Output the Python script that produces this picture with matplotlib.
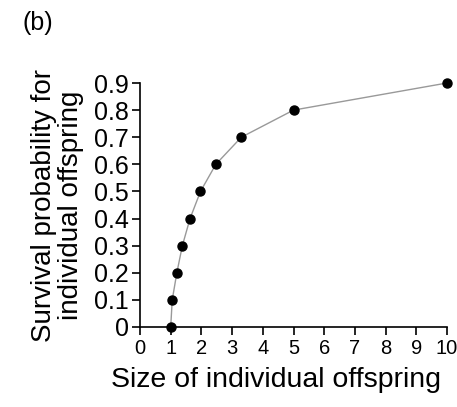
import matplotlib
matplotlib.use('Agg')
import matplotlib.pyplot as plt

# Dati
offspring_size = [1.0, 1.05, 1.2, 1.38, 1.63, 1.97, 2.47, 3.3, 5.0, 10.0]
survival_prob = [0.0, 0.1, 0.2, 0.3, 0.4, 0.5, 0.6, 0.7, 0.8, 0.9]
x_ticks = list(range(0, 11))
y_ticks = [0, 0.1, 0.2, 0.3, 0.4, 0.5, 0.6, 0.7, 0.8, 0.9]
y_ticklabels = ['0', '0.1', '0.2', '0.3', '0.4', '0.5', '0.6', '0.7', '0.8', '0.9']

plt.rcParams['font.family'] = ['Liberation Sans', 'DejaVu Sans']

fig = plt.figure(figsize=(4.57, 4.07), dpi=100)
ax = fig.add_axes([140 / 457, 1 - 327 / 407, (447 - 140) / 457, (327 - 83) / 407])

ax.plot(offspring_size, survival_prob, color='#999999', lw=1.0, zorder=2, clip_on=False)
ax.plot(offspring_size, survival_prob, 'o', color='black', ms=6.5, zorder=3, clip_on=False)

ax.set_xlim(0, 10)
ax.set_ylim(0, 0.9)
ax.set_xticks(x_ticks)
ax.set_yticks(y_ticks)
ax.set_yticklabels(y_ticklabels)
ax.tick_params(axis='x', labelsize=14.5, length=6, width=1.2, pad=3)
ax.tick_params(axis='y', labelsize=18, length=6, width=1.2, pad=2)
for s in ('top', 'right'):
    ax.spines[s].set_visible(False)
for s in ('left', 'bottom'):
    ax.spines[s].set_linewidth(1.2)

ax.set_xlabel('Size of individual offspring', fontsize=20.5)
ax.xaxis.set_label_coords((276 - 140) / 307, -(387 - 327) / 244)
ax.xaxis.label.set_va('baseline')
ax.set_ylabel('Survival probability for\nindividual offspring', fontsize=20,
              linespacing=1.05)
ax.yaxis.set_label_coords(-(140 - 84) / 307, 0.5)

fig.text(22 / 457, 1 - 11 / 407, '(b)', fontsize=18, ha='left', va='top')

plt.savefig('out.png', dpi=100)
